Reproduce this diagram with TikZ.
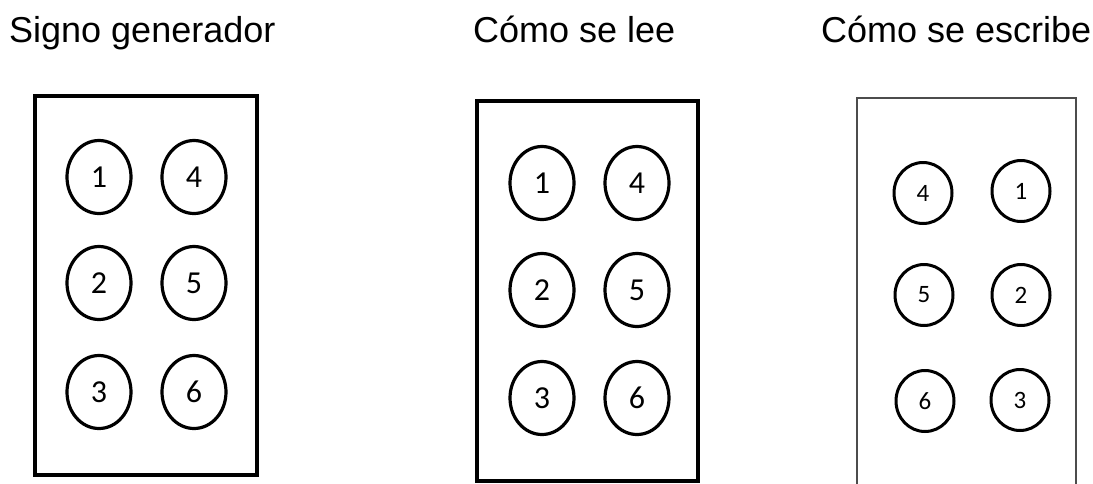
\documentclass[tikz,border=0pt]{standalone}
\usepackage{fontspec}
\setmainfont{Liberation Sans}
\newfontfamily\digitfont{Carlito}
\usetikzlibrary{shapes.geometric}
\begin{document}
\begin{tikzpicture}[x=1pt,y=-1pt,
  titletext/.style={anchor=base west,inner sep=0pt,font=\fontsize{36}{40}\selectfont},
  cellbig/.style={ellipse,draw,line width=3.2pt,inner sep=0pt,minimum width=64pt,minimum height=73pt,font=\digitfont\fontsize{32}{36}\selectfont},
  cellsmall/.style={ellipse,draw,line width=3pt,inner sep=0pt,minimum width=58pt,minimum height=61pt,font=\digitfont\fontsize{25}{28}\selectfont},
  frame/.style={draw,line width=3.6pt},
  thinframe/.style={draw=black!70,line width=2.4pt}]
\useasboundingbox (0,0) rectangle (1093,483);
\clip (0,0) rectangle (1093,483);
% titles
\node[titletext] (t1) at (9,42) {Signo generador};
\node[titletext] (t2) at (473,42) {Cómo se lee};
\node[titletext] (t3) at (821,42) {Cómo se escribe};
% panel 1
\draw[frame] (35,96) rectangle (257,475);
\node[cellbig] (a1) at (99,177) {1};
\node[cellbig] (a4) at (194,177) {4};
\node[cellbig] (a2) at (99,283) {2};
\node[cellbig] (a5) at (194,283) {5};
\node[cellbig] (a3) at (99,392) {3};
\node[cellbig] (a6) at (194,392) {6};
% panel 2
\draw[frame] (477,101) rectangle (698,481);
\node[cellbig] (b1) at (542,183) {1};
\node[cellbig] (b4) at (637,183) {4};
\node[cellbig] (b2) at (542,290) {2};
\node[cellbig] (b5) at (637,290) {5};
\node[cellbig] (b3) at (542,398) {3};
\node[cellbig] (b6) at (637,398) {6};
% panel 3
\draw[thinframe] (857,490) -- (857,98) -- (1076,98) -- (1076,490);
\node[cellsmall] (c4) at (923,193) {4};
\node[cellsmall] (c1) at (1021,191) {1};
\node[cellsmall] (c5) at (924,295) {5};
\node[cellsmall] (c2) at (1021,295) {2};
\node[cellsmall] (c6) at (925,401) {6};
\node[cellsmall] (c3) at (1020,400) {3};
\end{tikzpicture}
\end{document}
